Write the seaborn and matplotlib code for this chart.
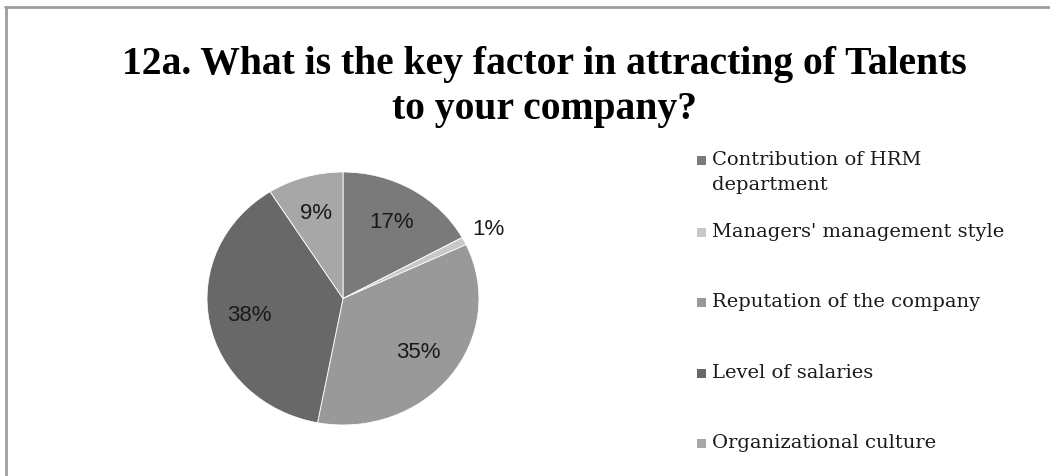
import matplotlib
matplotlib.use("Agg")
import matplotlib.pyplot as plt
import matplotlib.patches as mpatches
import matplotlib.lines as mlines
import seaborn as sns
import numpy as np

# data
categories = [
    "Contribution of HRM\ndepartment",
    "Managers' management style",
    "Reputation of the company",
    "Level of salaries",
    "Organizational culture",
]
shares = [17, 1, 35, 38, 9]
slice_colors = ["#7a7a7a", "#c8c8c8", "#999999", "#686868", "#a7a7a7"]

title = "12a. What is the key factor in attracting of Talents\nto your company?"

sns.set_theme(style="white")
plt.rcParams["font.family"] = ["Liberation Serif", "DejaVu Serif"]

W, H = 1050, 476
fig = plt.figure(figsize=(W / 100, H / 100), dpi=100)
fig.patch.set_facecolor("white")

# pie axes placed in pixels (left, bottom, width, height) -> ellipse like the original
px = (207, H - 425, 272, 253)
ax = fig.add_axes([px[0] / W, px[1] / H, px[2] / W, px[3] / H])

wedges, texts, autotexts = ax.pie(
    shares,
    colors=slice_colors,
    startangle=90,
    counterclock=False,
    autopct="%d%%",
    pctdistance=0.7,
    wedgeprops=dict(edgecolor="white", linewidth=0.6),
    textprops=dict(fontsize=16, family="Liberation Sans", color="#1a1a1a"),
)
ax.set_aspect("auto")
ax.set_xlim(-1, 1)
ax.set_ylim(-1, 1)
ax.axis("off")

# small slice: label outside the pie, like the original
for w, t, s in zip(wedges, autotexts, shares):
    if s < 3:
        ang = np.deg2rad((w.theta1 + w.theta2) / 2)
        t.set_position((1.2 * np.cos(ang), 1.2 * np.sin(ang)))

# title
fig.text(544 / W, 1 - 87 / H, title, ha="center", va="center",
         fontsize=28.5, fontweight="bold", family="Liberation Serif",
         linespacing=1.28, color="black")

# legend drawn by hand to match the spacing of the original
leg_y = [160, 232, 302, 373, 443]
for lab, col, y in zip(categories, slice_colors, leg_y):
    fig.patches.append(mpatches.Rectangle(
        (697 / W, 1 - (y + 5) / H), 9 / W, 9 / H,
        transform=fig.transFigure, facecolor=col, edgecolor="none"))
    fig.text(712 / W, 1 - (y - 9) / H, lab, ha="left", va="top",
             fontsize=14, family="DejaVu Serif", color="#1a1a1a",
             linespacing=1.5)

# frame lines (top and left, as in the cropped screenshot)
fig.add_artist(mlines.Line2D([5 / W, 1], [1 - 7 / H, 1 - 7 / H],
                             transform=fig.transFigure, color="#9e9e9e", lw=2))
fig.add_artist(mlines.Line2D([6 / W, 6 / W], [0, 1 - 7 / H],
                             transform=fig.transFigure, color="#9e9e9e", lw=2))

fig.savefig("out.png", dpi=100)
